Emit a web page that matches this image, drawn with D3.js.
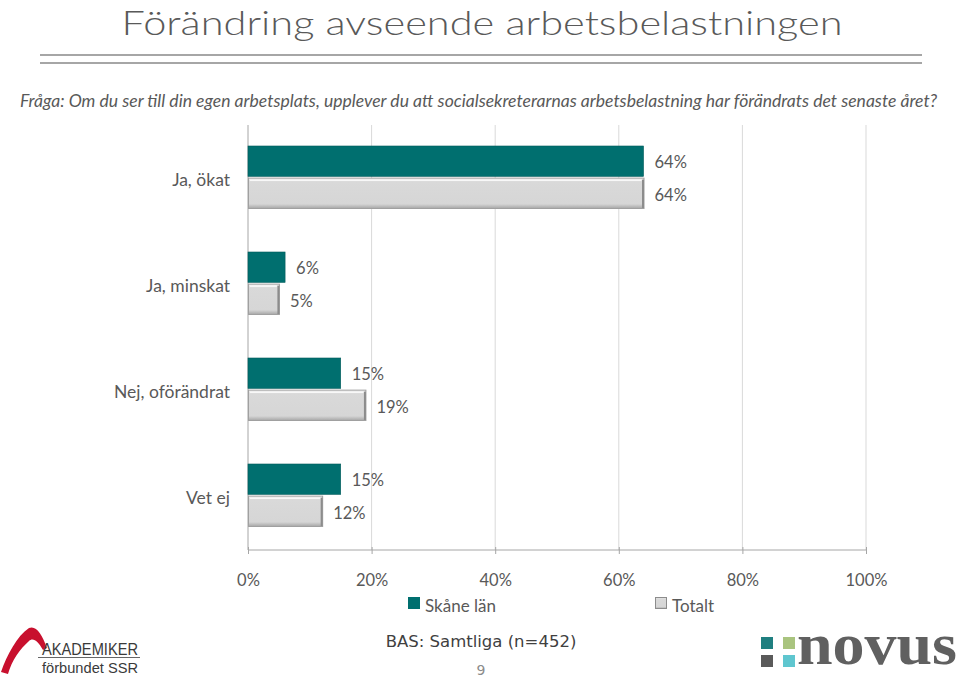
<!DOCTYPE html>
<html><head><meta charset="utf-8">
<script src="https://cdn.jsdelivr.net/npm/d3@7"></script>
<style>body{margin:0;background:#fff}svg{display:block}</style>
</head><body>
<svg id="c" width="959" height="679"></svg>
<script>
const categories = ["Ja, ökat", "Ja, minskat", "Nej, oförändrat", "Vet ej"];
const skane = [64, 6, 15, 15];
const totalt = [64, 5, 19, 12];
const seriesNames = ["Skåne län", "Totalt"];
const xTicks = [0, 20, 40, 60, 80, 100];
const titleText = "Förändring avseende arbetsbelastningen";
const questionText = "Fråga: Om du ser till din egen arbetsplats, upplever du att socialsekreterarnas arbetsbelastning har förändrats det senaste året?";
const baseText = "BAS: Samtliga (n=452)";
const pageNo = "9";

(function(){
const svg = d3.select("#c");
const FONT = "Lato, 'Open Sans', sans-serif";
const TXT = "#595959";

const defs = svg.append("defs");
const gg = defs.append("linearGradient").attr("id","greyGrad").attr("x1",0).attr("y1",0).attr("x2",0).attr("y2",1);
gg.append("stop").attr("offset","0").attr("stop-color","#f2f2f2");
gg.append("stop").attr("offset","0.12").attr("stop-color","#d9d9d9");
gg.append("stop").attr("offset","0.85").attr("stop-color","#d6d6d6");
gg.append("stop").attr("offset","1").attr("stop-color","#a6a6a6");

// Title
svg.append("text").attr("x",482).attr("y",34.5).attr("text-anchor","middle")
  .attr("font-family",FONT).attr("font-weight",300).attr("font-size",33.5).attr("fill",TXT)
  .attr("textLength",721).attr("lengthAdjust","spacingAndGlyphs").text(titleText);
svg.append("line").attr("x1",40).attr("x2",922).attr("y1",55).attr("y2",55).attr("stroke","#a6a6a6").attr("stroke-width",2);
svg.append("line").attr("x1",40).attr("x2",922).attr("y1",63).attr("y2",63).attr("stroke","#a6a6a6").attr("stroke-width",2);

// Question
svg.append("text").attr("x",20).attr("y",107).attr("font-family",FONT).attr("font-style","italic")
  .attr("font-size",16.5).attr("fill",TXT).attr("textLength",917).attr("lengthAdjust","spacingAndGlyphs").text(questionText);

// Scales
const x = d3.scaleLinear().domain([0,100]).range([248,866]);
const y = d3.scaleBand().domain(categories).range([124,548]);
const sub = d3.scaleBand().domain(seriesNames).range([0,62]).paddingInner(0.04);
const plotTop = 125, plotBottom = 550;

// grid
svg.append("g").selectAll("line").data(xTicks.slice(1)).join("line")
  .attr("x1",d=>x(d)).attr("x2",d=>x(d)).attr("y1",plotTop).attr("y2",plotBottom)
  .attr("stroke","#d9d9d9").attr("stroke-width",1);

// axis
const xAxis = svg.append("g").attr("transform",`translate(0,${plotBottom})`)
  .call(d3.axisBottom(x).tickValues(xTicks).tickFormat(d=>d+"%").tickSize(6).tickPadding(18));
xAxis.select(".domain").attr("stroke","#a6a6a6").attr("d",`M${x(0)},0H${x(100)}`);
xAxis.selectAll(".tick line").attr("stroke","#a6a6a6").attr("y1",-3).attr("y2",4);
xAxis.selectAll(".tick text").attr("font-family",FONT).attr("font-size",16.5).attr("fill",TXT);
svg.append("line").attr("x1",x(0)).attr("x2",x(0)).attr("y1",plotTop).attr("y2",plotBottom).attr("stroke","#a6a6a6");

// category labels
svg.append("g").selectAll("text").data(categories).join("text")
  .attr("x",230).attr("y",d=>y(d)+y.bandwidth()/2+9).attr("text-anchor","end")
  .attr("font-family",FONT).attr("font-size",17.5).attr("fill",TXT).text(d=>d);

const groupOff = d => y(d) + y.bandwidth()/2 - 31;

// bars
const rows = categories.map((c,i)=>({c, v:[skane[i], totalt[i]]}));
const g = svg.append("g");
rows.forEach(r=>{
  const y0 = groupOff(r.c);
  g.append("rect").attr("x",x(0)).attr("y",y0+sub("Skåne län")).attr("width",x(r.v[0])-x(0)).attr("height",sub.bandwidth())
    .attr("fill","#006f6f").attr("stroke","#005a5a").attr("stroke-width",0.6);
  const ty = y0+sub("Totalt");
  g.append("rect").attr("x",x(0)+0.5).attr("y",ty+0.5).attr("width",x(r.v[1])-x(0)).attr("height",sub.bandwidth())
    .attr("fill","url(#greyGrad)").attr("stroke","#a0a0a0").attr("stroke-width",1);
  g.append("line").attr("x1",x(r.v[1])-0.5).attr("x2",x(r.v[1])-0.5).attr("y1",ty+2).attr("y2",ty+sub.bandwidth())
    .attr("stroke","#8c8c8c").attr("stroke-width",2);
  g.append("line").attr("x1",x(0)+2).attr("x2",x(r.v[1])-2).attr("y1",ty+2.5).attr("y2",ty+2.5)
    .attr("stroke","#f8f8f8").attr("stroke-width",1.5);
  g.append("text").attr("x",x(r.v[0])+11).attr("y",y0+sub("Skåne län")+sub.bandwidth()/2+7)
    .attr("font-family",FONT).attr("font-size",16.5).attr("fill",TXT).text(r.v[0]+"%");
  g.append("text").attr("x",x(r.v[1])+11).attr("y",ty+sub.bandwidth()/2+8)
    .attr("font-family",FONT).attr("font-size",16.5).attr("fill",TXT).text(r.v[1]+"%");
});

// Legend
const leg = svg.append("g");
leg.append("rect").attr("x",408).attr("y",597).attr("width",12).attr("height",12).attr("fill","#006f6f");
leg.append("text").attr("x",425).attr("y",612).attr("font-family",FONT).attr("font-size",17).attr("fill",TXT).text(seriesNames[0]);
leg.append("rect").attr("x",655.5).attr("y",597.5).attr("width",11).attr("height",11).attr("fill","url(#greyGrad)").attr("stroke","#8c8c8c");
leg.append("text").attr("x",672).attr("y",612).attr("font-family",FONT).attr("font-size",17).attr("fill",TXT).text(seriesNames[1]);

// Bottom texts
svg.append("text").attr("x",481).attr("y",647).attr("text-anchor","middle").attr("font-family","'DejaVu Sans', sans-serif")
  .attr("font-size",16.5).attr("fill","#404040").text(baseText);
svg.append("text").attr("x",481).attr("y",675).attr("text-anchor","middle").attr("font-family","'DejaVu Sans', sans-serif")
  .attr("font-size",14).attr("fill","#8c8c8c").text(pageNo);

// Akademiker logo
const lg = svg.append("g");
lg.append("path").attr("d","M1,672 C7,655 17,636 29,628 C36,625 42,634 47,648 L43,650 C38,641 33,637 29,641 C20,649 12,660 8,674 Z")
  .attr("fill","#c8102e");
lg.append("text").attr("x",42).attr("y",655).attr("font-family","'Liberation Sans', sans-serif").attr("font-size",16)
  .attr("fill","#3a3a3a").attr("textLength",96).attr("lengthAdjust","spacingAndGlyphs").text("AKADEMIKER");
lg.append("line").attr("x1",38).attr("x2",140).attr("y1",657.5).attr("y2",657.5).attr("stroke","#666").attr("stroke-width",1);
lg.append("text").attr("x",42).attr("y",673).attr("font-family","'Liberation Sans', sans-serif").attr("font-size",15.5)
  .attr("fill","#3a3a3a").attr("textLength",96).attr("lengthAdjust","spacingAndGlyphs").text("förbundet SSR");

// Novus logo
const nv = svg.append("g");
[[761,637,"#1f7f80"],[783,637,"#a9c47f"],[761,655,"#5a5a5a"],[783,655,"#5fc6cf"]].forEach(s=>{
  nv.append("rect").attr("x",s[0]).attr("y",s[1]).attr("width",12).attr("height",12).attr("fill",s[2]);
});
nv.append("text").attr("x",797).attr("y",664).attr("font-family","'Liberation Serif', serif").attr("font-weight","bold")
  .attr("font-size",60).attr("fill","#606060").attr("textLength",160).attr("lengthAdjust","spacingAndGlyphs").text("novus");
})();
</script>
</body></html>
